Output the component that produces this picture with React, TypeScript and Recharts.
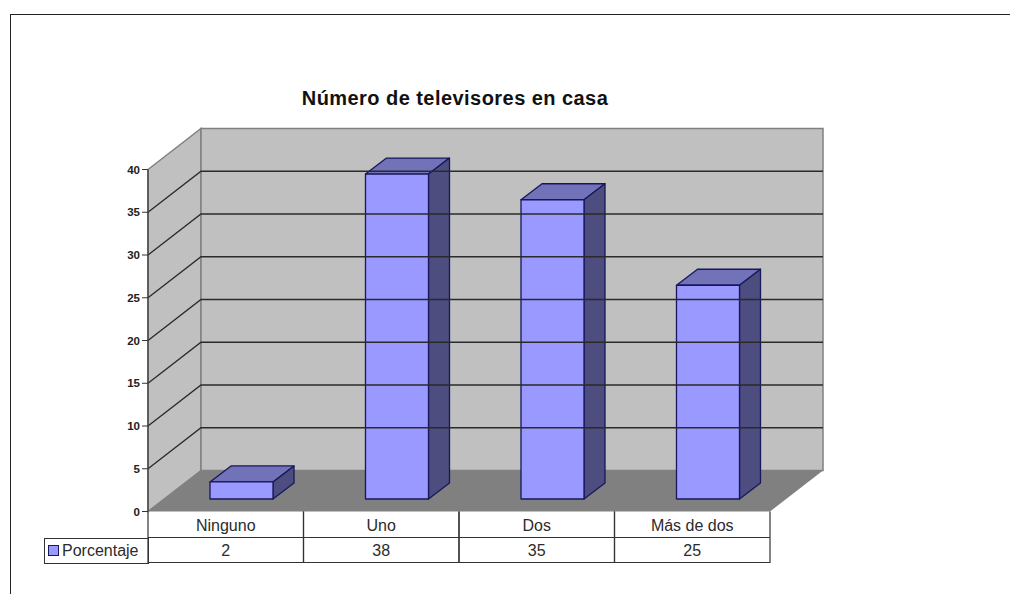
import React from "react";
import {
  BarChart,
  Bar,
  XAxis,
  YAxis,
  ReferenceArea,
  ReferenceLine,
  Legend,
} from "recharts";

const categories = ["Ninguno", "Uno", "Dos", "Más de dos"];
const porcentaje = [2, 38, 35, 25];
const yTicks = [0, 5, 10, 15, 20, 25, 30, 35, 40];

const data = categories.map((name, i) => ({ name, porcentaje: porcentaje[i] }));

const FONT = '"Liberation Sans", Arial, sans-serif';
const TEXT = "#2b2b2b";
const LINE = "#333333";

// 3D look: how far the back wall sits from the front plane
const WALL_DX = 53;
const WALL_DY = 41;
// the bars stand a bit inside the floor
const BAR_DX = 16;
const BAR_DY = 12.5;
const BAR_DEPTH_X = 21;
const BAR_DEPTH_Y = 16;

const CELL_W = 155.5;
const ROW_H = 26;

function Walls(props: any) {
  const { x, y, width, height } = props;
  const b = y + height;
  const r = x + width;
  const edge = { stroke: "#808080", strokeWidth: 1.5 };
  return (
    <g>
      <polygon
        points={`${x},${b} ${x + WALL_DX},${b - WALL_DY} ${x + WALL_DX},${y - WALL_DY} ${x},${y}`}
        fill="#c0c0c0"
        {...edge}
      />
      <rect
        x={x + WALL_DX}
        y={y - WALL_DY}
        width={width}
        height={height}
        fill="#c0c0c0"
        {...edge}
      />
      <polygon
        points={`${x},${b} ${x + WALL_DX},${b - WALL_DY} ${r + WALL_DX},${b - WALL_DY} ${r},${b}`}
        fill="#808080"
      />
    </g>
  );
}

function GridLine(props: any) {
  const { x1, x2, y1 } = props;
  const d = `M${x1},${y1} L${x1 + WALL_DX},${y1 - WALL_DY} L${x2 + WALL_DX},${y1 - WALL_DY}`;
  return <path d={d} fill="none" stroke="#2a2a2a" strokeWidth={1.3} />;
}

function Bar3D(props: any) {
  const { x, y, width, height } = props;
  const fx = x + BAR_DX;
  const fy = y - BAR_DY;
  const dx = BAR_DEPTH_X;
  const dy = BAR_DEPTH_Y;
  const stroke = "#17175c";
  return (
    <g stroke={stroke} strokeWidth={1.3} strokeLinejoin="round">
      <polygon
        points={`${fx},${fy} ${fx + dx},${fy - dy} ${fx + width + dx},${fy - dy} ${fx + width},${fy}`}
        fill="#7272b8"
      />
      <polygon
        points={`${fx + width},${fy} ${fx + width + dx},${fy - dy} ${fx + width + dx},${fy + height - dy} ${fx + width},${fy + height}`}
        fill="#4d4d80"
      />
      <rect x={fx} y={fy} width={width} height={height} fill="#9999ff" />
    </g>
  );
}

function TableTick(props: any) {
  const { x, y, payload, index } = props;
  const left = x - CELL_W / 2;
  const right = x + CELL_W / 2;
  return (
    <g>
      <path
        d={`M${left},${y} V${y + ROW_H * 2 - 1} H${right} V${y} M${left},${y + ROW_H} H${right}`}
        fill="none"
        stroke={LINE}
        strokeWidth={1.2}
      />
      <text x={x} y={y + 19} textAnchor="middle" fontSize={16} fontFamily={FONT} fill={TEXT}>
        {payload.value}
      </text>
      <text x={x} y={y + 44} textAnchor="middle" fontSize={16} fontFamily={FONT} fill={TEXT}>
        {porcentaje[index]}
      </text>
    </g>
  );
}

function LegendCell({ payload }: any) {
  const item = payload && payload[0];
  return (
    <div
      style={{
        boxSizing: "border-box",
        width: 105,
        height: 26,
        border: `1px solid ${LINE}`,
        display: "flex",
        alignItems: "center",
        paddingLeft: 3,
        fontFamily: FONT,
        fontSize: 16,
        color: TEXT,
      }}
    >
      <span
        style={{
          display: "inline-block",
          boxSizing: "border-box",
          width: 11,
          height: 11,
          background: "#9999ff",
          border: "1px solid #17175c",
          marginRight: 3,
        }}
      />
      {item ? item.value : ""}
    </div>
  );
}

export default function App() {
  return (
    <div
      style={{
        position: "absolute",
        left: 0,
        top: 0,
        width: 1010,
        height: 594,
        background: "#fff",
        overflow: "hidden",
      }}
    >
      <div
        style={{
          position: "absolute",
          left: 10,
          top: 14,
          width: 1000,
          height: 580,
          borderTop: "1px solid #222",
          borderLeft: "1px solid #222",
        }}
      />
      <div
        style={{
          position: "absolute",
          left: 155,
          width: 600,
          top: 87,
          textAlign: "center",
          fontFamily: FONT,
          fontWeight: "bold",
          fontSize: 20,
          letterSpacing: 0.45,
          color: "#111",
        }}
      >
        Número de televisores en casa
      </div>
      <BarChart
        width={1010}
        height={594}
        data={data}
        margin={{ top: 169.5, right: 240, bottom: 0, left: 108 }}
        barSize={63}
        style={{ position: "absolute", left: 0, top: 0 }}
      >
        <XAxis
          dataKey="name"
          axisLine={false}
          tickLine={false}
          tickSize={0}
          tickMargin={0}
          height={56.5}
          interval={0}
          tick={<TableTick />}
        />
        <YAxis
          width={40}
          domain={[0, 40]}
          ticks={yTicks}
          interval={0}
          tickSize={6}
          tickMargin={2}
          stroke={LINE}
          axisLine={{ stroke: "#404040", strokeWidth: 1.3 }}
          tick={{ fontSize: 11.5, fontWeight: "bold", fontFamily: FONT, fill: "#222" }}
        />
        <ReferenceArea y1={0} y2={40} shape={<Walls />} ifOverflow="visible" />
        {yTicks.slice(1, -1).map((v) => (
          <ReferenceLine key={v} y={v} ifOverflow="visible" shape={<GridLine />} />
        ))}
        <Bar
          dataKey="porcentaje"
          name="Porcentaje"
          fill="#9999ff"
          isAnimationActive={false}
          shape={<Bar3D />}
        />
        <Legend
          content={<LegendCell />}
          layout="vertical"
          wrapperStyle={{ position: "absolute", left: 44, top: 537.5, width: 105, bottom: "auto" }}
        />
      </BarChart>
    </div>
  );
}
